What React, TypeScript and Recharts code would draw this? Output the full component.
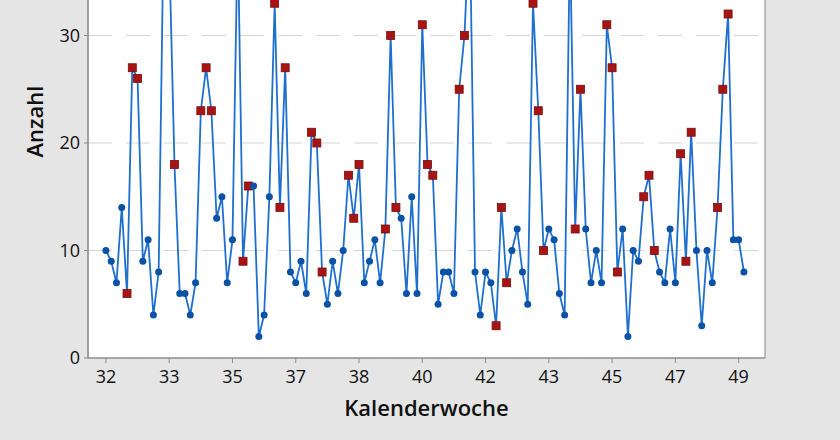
import React from 'react'
import { LineChart, Line, XAxis, YAxis, CartesianGrid, ReferenceArea } from 'recharts'

// daily counts, Kalenderwoche 32 .. 49
const counts = [
  10, 9, 7, 14, 6, 27, 26, 9, 11, 4, 8, 42, 38, 18, 6, 6, 4, 7, 23, 27,
  23, 13, 15, 7, 11, 40, 9, 16, 16, 2, 4, 15, 33, 14, 27, 8, 7, 9, 6, 21,
  20, 8, 5, 9, 6, 10, 17, 13, 18, 7, 9, 11, 7, 12, 30, 14, 13, 6, 15, 6,
  31, 18, 17, 5, 8, 8, 6, 25, 30, 41, 8, 4, 8, 7, 3, 14, 7, 10, 12, 8,
  5, 33, 23, 10, 12, 11, 6, 4, 39, 12, 25, 12, 7, 10, 7, 31, 27, 8, 12, 2,
  10, 9, 15, 17, 10, 8, 7, 12, 7, 19, 9, 21, 10, 3, 10, 7, 14, 25, 32, 11,
  11, 8,
]

// 1 = red square (flagged point)
const flagged = [
  0, 0, 0, 0, 1, 1, 1, 0, 0, 0, 0, 1, 1, 1, 0, 0, 0, 0, 1, 1,
  1, 0, 0, 0, 0, 1, 1, 1, 0, 0, 0, 0, 1, 1, 1, 0, 0, 0, 0, 1,
  1, 1, 0, 0, 0, 0, 1, 1, 1, 0, 0, 0, 0, 1, 1, 1, 0, 0, 0, 0,
  1, 1, 1, 0, 0, 0, 0, 1, 1, 1, 0, 0, 0, 0, 1, 1, 1, 0, 0, 0,
  0, 1, 1, 1, 0, 0, 0, 0, 1, 1, 1, 0, 0, 0, 0, 1, 1, 1, 0, 0,
  0, 0, 1, 1, 1, 0, 0, 0, 0, 1, 1, 1, 0, 0, 0, 0, 1, 1, 1, 0,
  0, 0,
]

const weekLabels = ['32', '33', '35', '37', '38', '40', '42', '43', '45', '47', '49']
const yTicks = [0, 10, 20, 30]

const TICK_EVERY = 12
const tickIdx = weekLabels.map((_, i) => i * TICK_EVERY)

const data = counts.map((v, i) => ({ idx: i, anzahl: v, flag: flagged[i] === 1 }))

const X_DOMAIN: [number, number] = [-3.4, 125]
const Y_DOMAIN: [number, number] = [0, 44]

const font = '"Open Sans", "DejaVu Sans", sans-serif'

const Marker = (props: any) => {
  const { cx, cy, payload, index } = props
  if (cx == null || cy == null) return <g key={`m-${index}`} />
  if (payload.flag) {
    return (
      <rect key={`m-${index}`} x={cx - 4} y={cy - 4} width={8} height={8}
        fill="#a81414" stroke="#7c0c0c" strokeWidth={0.8} />
    )
  }
  return <circle key={`m-${index}`} cx={cx} cy={cy} r={3.5} fill="#0b52a6" />
}

export default function App() {
  return (
    <div style={{ position: 'absolute', left: 0, top: -150, width: 840, height: 590, background: '#e5e5e5' }}>
      <LineChart width={840} height={590} data={data} margin={{ top: 35, right: 75, bottom: 0, left: 0 }}>
        <CartesianGrid vertical={false} stroke="#d6d6d6" strokeDasharray="24 14" fill="#ffffff" />
        <ReferenceArea x1={X_DOMAIN[0]} x2={X_DOMAIN[1]} y1={Y_DOMAIN[0]} y2={Y_DOMAIN[1]}
          fill="none" stroke="#9a9a9a" strokeWidth={1.2} />
        <XAxis
          dataKey="idx"
          type="number"
          domain={X_DOMAIN}
          ticks={tickIdx}
          interval={0}
          allowDataOverflow
          tickFormatter={(v: number) => weekLabels[Math.round(v / TICK_EVERY)] ?? ''}
          height={82}
          tickSize={5}
          tickMargin={7}
          axisLine={{ stroke: '#8c8c8c', strokeWidth: 1.2 }}
          tickLine={{ stroke: '#8c8c8c' }}
          tick={{ fill: '#111', fontSize: 18, fontFamily: font }}
          label={{ value: 'Kalenderwoche', position: 'insideBottom', offset: 24,
            style: { fill: '#111', fontSize: 22, fontWeight: 600, fontFamily: font } }}
        />
        <YAxis
          type="number"
          domain={Y_DOMAIN}
          ticks={yTicks}
          width={88}
          tickSize={4}
          tickMargin={4}
          axisLine={{ stroke: '#8c8c8c', strokeWidth: 1.2 }}
          tickLine={{ stroke: '#8c8c8c' }}
          tick={{ fill: '#111', fontSize: 18, fontFamily: font }}
          label={{ value: 'Anzahl', angle: -90, position: 'insideLeft', offset: 35,
            style: { textAnchor: 'middle', fill: '#111', fontSize: 22, fontWeight: 600, fontFamily: font } }}
        />
        <Line
          type="linear"
          dataKey="anzahl"
          stroke="#1f6fcf"
          strokeWidth={1.8}
          dot={Marker}
          activeDot={false}
          isAnimationActive={false}
        />
      </LineChart>
    </div>
  )
}
